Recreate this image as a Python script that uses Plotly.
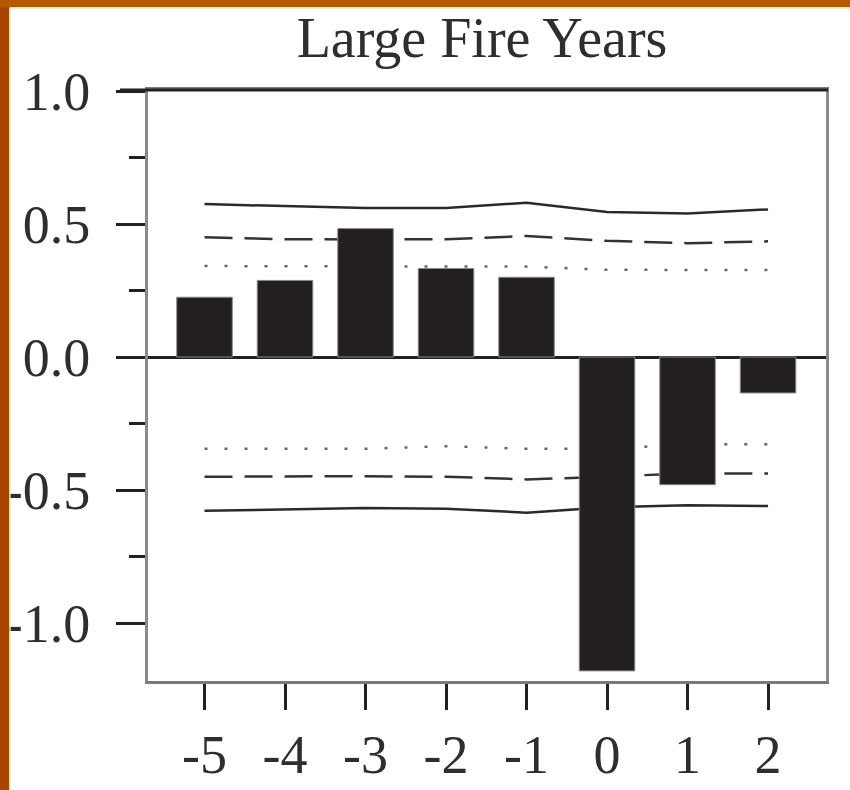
import plotly.graph_objects as go

# ---- data ----
lags = [-5, -4, -3, -2, -1, 0, 1, 2]
x_tick_labels = ["-5", "-4", "-3", "-2", "-1", "0", "1", "2"]
sea_values = [0.225, 0.288, 0.483, 0.333, 0.300, -1.180, -0.480, -0.135]

ci999_upper = [0.575, 0.568, 0.560, 0.560, 0.580, 0.545, 0.540, 0.555]
ci99_upper = [0.450, 0.443, 0.442, 0.443, 0.455, 0.437, 0.428, 0.435]
ci95_upper = [0.342, 0.342, 0.342, 0.342, 0.340, 0.328, 0.327, 0.327]
ci95_lower = [-0.345, -0.345, -0.345, -0.335, -0.345, -0.345, -0.328, -0.328]
ci99_lower = [-0.450, -0.448, -0.448, -0.450, -0.460, -0.450, -0.437, -0.438]
ci999_lower = [-0.578, -0.572, -0.568, -0.570, -0.585, -0.565, -0.557, -0.560]

y_tick_vals = [1.0, 0.5, 0.0, -0.5, -1.0]
y_tick_labels = ["1.0", "0.5", "0.0", "-0.5", "-1.0"]
y_minor_vals = [0.75, 0.25, -0.25, -0.75]

title_text = "Large Fire Years"

# ---- layout constants ----
W, H = 850, 790
ML, MR, MT, MB = 148, 24, 90, 109
PW, PH = W - ML - MR, H - MT - MB
XR = [-5.702, 2.72]
YR = [-1.218, 1.004]
FONT = "Liberation Serif, Times New Roman, serif"
TXT = "#2e2e2e"


def px_x(px):
    return (px - ML) / PW


def px_y(py):
    return (H - MB - py) / PH


fig = go.Figure()

line_specs = [
    (ci999_upper, "solid", "#2a2a2a", 2.5),
    (ci99_upper, "28px,12px", "#333333", 2.5),
    (ci95_upper, "3px,17px", "#666666", 2.5),
    (ci95_lower, "3px,17px", "#666666", 2.5),
    (ci99_lower, "28px,12px", "#333333", 2.5),
    (ci999_lower, "solid", "#2a2a2a", 2.5),
]
for vals, dash, col, w in line_specs:
    fig.add_trace(go.Scatter(
        x=lags, y=vals, mode="lines",
        line=dict(color=col, width=w, dash=dash),
        xaxis="x", yaxis="y", showlegend=False, hoverinfo="skip",
    ))

fig.add_trace(go.Bar(
    x=lags, y=sea_values, width=0.69,
    marker=dict(color="#231f20", line=dict(color="#8a8a8a", width=1)),
    xaxis="x2", yaxis="y2", showlegend=False,
))

fig.update_layout(
    width=W, height=H,
    margin=dict(l=ML, r=MR, t=MT, b=MB, autoexpand=False),
    paper_bgcolor="white", plot_bgcolor="white",
    title=dict(text=title_text, x=482 / W, xanchor="center",
               y=1 - 37 / H, yanchor="middle",
               font=dict(family=FONT, size=56, color=TXT)),
    xaxis=dict(
        range=XR, tickvals=lags, ticktext=x_tick_labels,
        ticks="outside", ticklen=26, tickwidth=3, tickcolor="#222",
        showline=True, linecolor="#7a7a7a", linewidth=3, mirror=True,
        showgrid=False, zeroline=False, automargin=False,
        tickfont=dict(family=FONT, size=54, color=TXT),
        ticklabelstandoff=-2,
    ),
    yaxis=dict(
        range=YR, tickvals=y_tick_vals, ticktext=y_tick_labels,
        ticks="outside", ticklen=29, tickwidth=3, tickcolor="#222",
        minor=dict(tickvals=y_minor_vals, ticks="outside", ticklen=16,
                   tickwidth=3, tickcolor="#222"),
        showline=True, linecolor="#8a8a8a", linewidth=3, mirror=True,
        showgrid=False, zeroline=True, zerolinecolor="#222", zerolinewidth=3,
        automargin=False,
        tickfont=dict(family=FONT, size=54, color=TXT),
        ticklabelstandoff=15,
    ),
    xaxis2=dict(range=XR, overlaying="x", visible=False),
    yaxis2=dict(range=YR, overlaying="y", visible=False),
    shapes=[
        # dark top frame line
        dict(type="line", xref="paper", yref="paper", x0=px_x(120), x1=px_x(828),
             y0=1, y1=1, line=dict(color="#222", width=3), layer="above"),
        # orange page border (left and top)
        dict(type="rect", xref="paper", yref="paper", x0=px_x(0), x1=px_x(9.5),
             y0=px_y(H), y1=px_y(0), fillcolor="#a84400", line=dict(width=0),
             layer="above"),
        dict(type="rect", xref="paper", yref="paper", x0=px_x(0), x1=px_x(W),
             y0=px_y(7.5), y1=px_y(0), fillcolor="#b65800", line=dict(width=0),
             layer="above"),
        dict(type="line", xref="paper", yref="paper", x0=px_x(10), x1=px_x(10),
             y0=px_y(H), y1=px_y(8), line=dict(color="#ffe98c", width=1.5),
             layer="above"),
        dict(type="line", xref="paper", yref="paper", x0=px_x(10), x1=px_x(W),
             y0=px_y(8), y1=px_y(8), line=dict(color="#ffe98c", width=1.5),
             layer="above"),
    ],
)

fig.write_html("out.html", config={"displayModeBar": False},
               post_script="document.body.style.margin='0';")
